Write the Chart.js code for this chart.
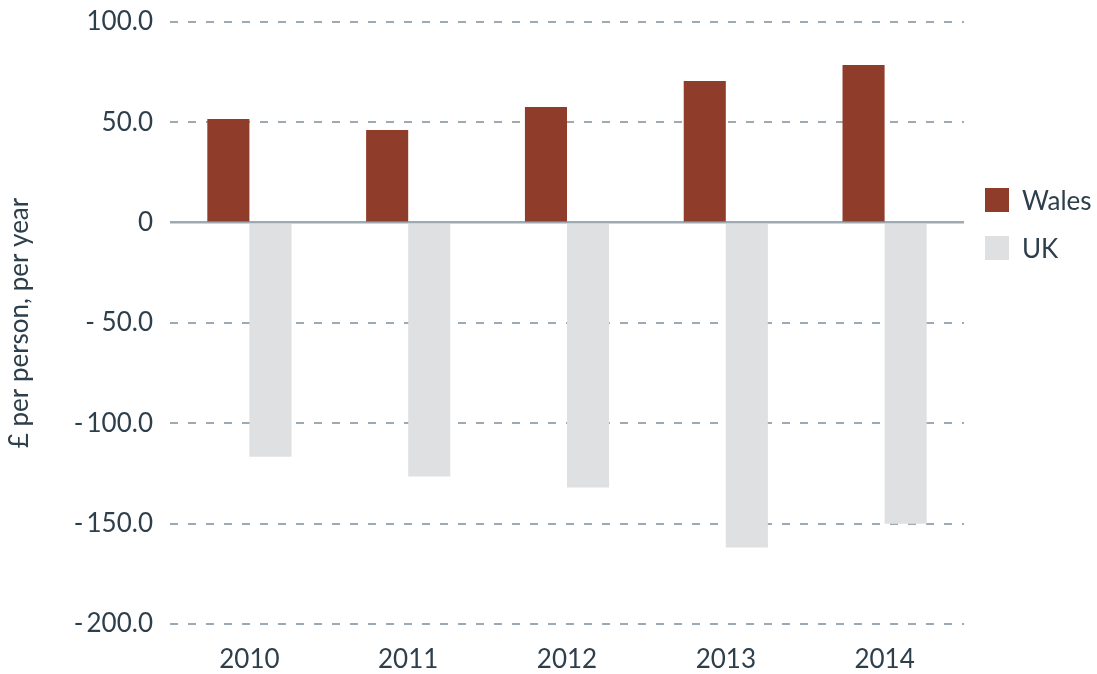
<!DOCTYPE html>
<html>
<head>
<meta charset="utf-8">
<script src="https://cdn.jsdelivr.net/npm/chart.js@4"></script>
<style>
  html, body { margin: 0; padding: 0; background: #fff; }
  #wrap { position: relative; width: 1097px; height: 674px; }
  #legend { position: absolute; left: 985px; top: 188px; font-family: Lato, sans-serif; font-size: 26px; color: #2e3f4c; }
  .item { display: flex; align-items: center; height: 24px; margin-bottom: 24px; }
  .box { width: 24px; height: 24px; margin-right: 13px; }
</style>
</head>
<body>
<div id="wrap">
  <canvas id="chart" width="1097" height="674"></canvas>
  <div id="legend"></div>
</div>
<script>
const categories = ['2010', '2011', '2012', '2013', '2014'];
const walesValues = [51.7, 46.2, 57.6, 70.6, 78.6];
const ukValues = [-116.6, -126.5, -132.0, -161.9, -150.0];
const seriesNames = ['Wales', 'UK'];
const seriesColors = ['#8f3c2a', '#dfe0e2'];

const textColor = '#2e3f4c';
const gridColor = '#9eaab3';

// legend built from the series
const legend = document.getElementById('legend');
seriesNames.forEach((name, i) => {
    const item = document.createElement('div');
    item.className = 'item';
    item.innerHTML = '<span class="box" style="background:' + seriesColors[i] + '"></span><span>' + name + '</span>';
    legend.appendChild(item);
});

function formatTick(value) {
    if (value === 0) return '0';
    if (value < 0) {
        const abs = Math.abs(value).toFixed(1);
        return (Math.abs(value) < 100 ? '- ' : '-\u2009') + abs;
    }
    return value.toFixed(1);
}

const ctx = document.getElementById('chart').getContext('2d');
new Chart(ctx, {
    type: 'bar',
    data: {
        labels: categories,
        datasets: [
            { label: seriesNames[0], data: walesValues, backgroundColor: seriesColors[0] },
            { label: seriesNames[1], data: ukValues, backgroundColor: seriesColors[1] }
        ]
    },
    options: {
        responsive: false,
        animation: false,
        layout: { padding: { top: 22, right: 133, bottom: 0, left: 0 } },
        datasets: { bar: { barPercentage: 1, categoryPercentage: 0.53 } },
        plugins: {
            legend: { display: false },
            tooltip: { enabled: false }
        },
        scales: {
            x: {
                grid: { display: false, drawTicks: false },
                border: { display: false },
                ticks: {
                    color: textColor,
                    font: { family: 'Lato', size: 26 },
                    padding: 20
                },
                afterFit: (scale) => { scale.height = 50; }
            },
            y: {
                min: -200,
                max: 100,
                ticks: {
                    stepSize: 50,
                    color: textColor,
                    font: { family: 'Lato', size: 26 },
                    padding: 17,
                    callback: (v) => formatTick(v)
                },
                grid: {
                    drawTicks: false,
                    color: gridColor,
                    lineWidth: (c) => (c.tick && c.tick.value === 0 ? 2.5 : 2)
                },
                border: {
                    display: false,
                    dash: (c) => (c.tick && c.tick.value === 0 ? [] : [8, 10])
                },
                title: {
                    display: true,
                    text: '£ per person, per year',
                    color: textColor,
                    font: { family: 'Lato', size: 26 },
                    padding: { top: 4, bottom: 0 }
                },
                afterFit: (scale) => {
                    scale.width = 170;
                    scale.paddingTop = 0;
                    scale.paddingBottom = 0;
                }
            }
        }
    }
});
</script>
</body>
</html>
